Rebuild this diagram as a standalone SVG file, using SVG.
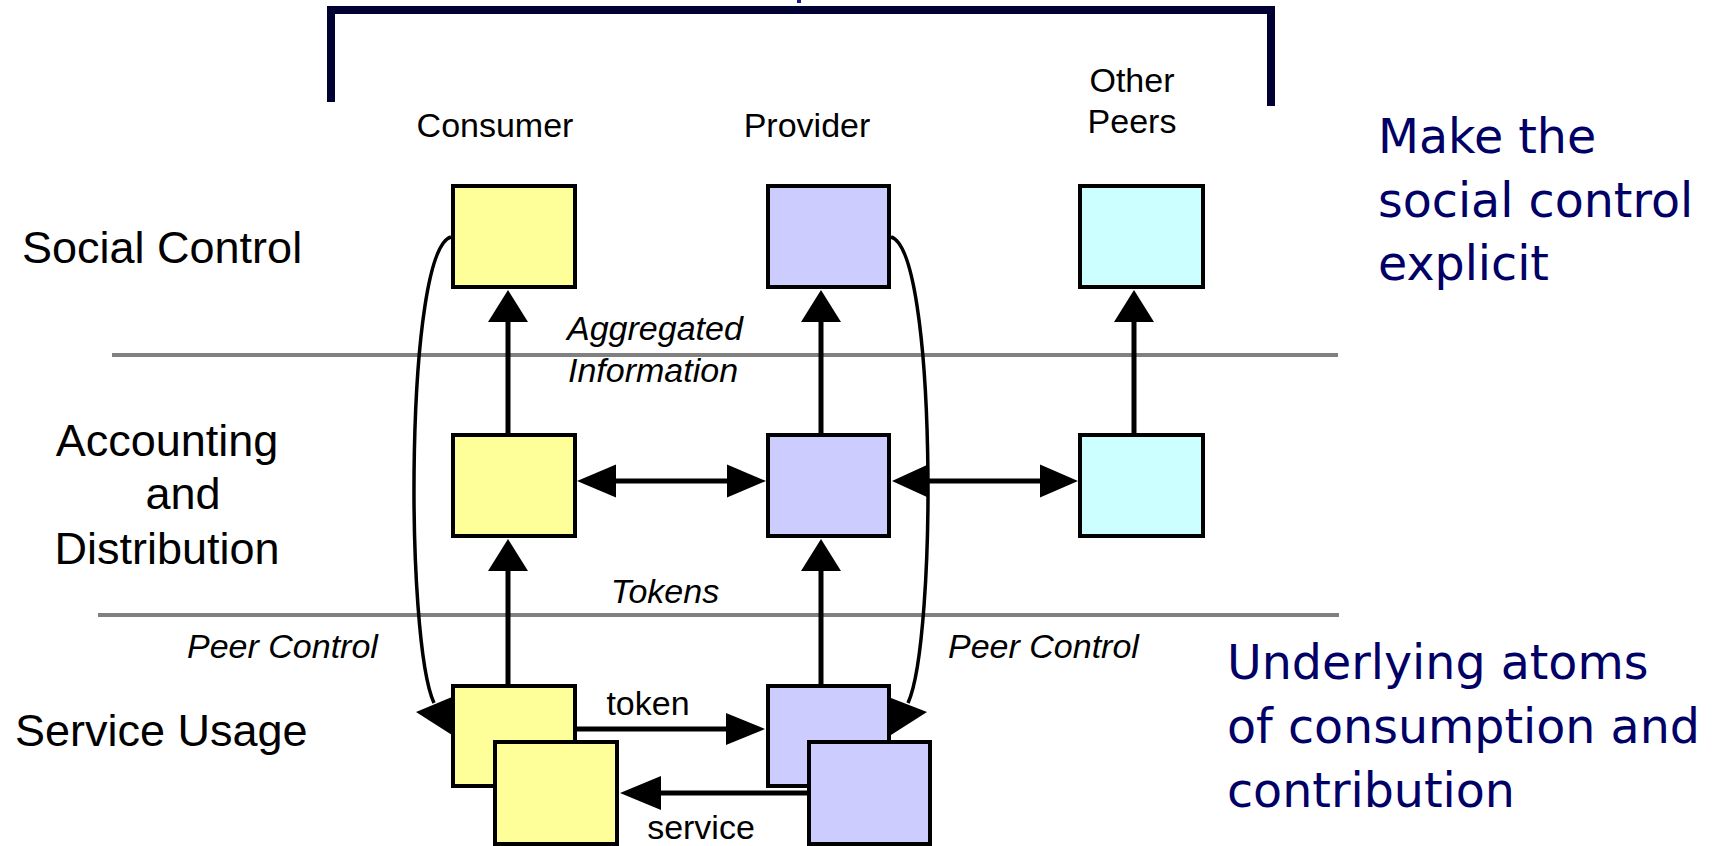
<svg xmlns="http://www.w3.org/2000/svg" width="1724" height="846" viewBox="0 0 1724 846">
<style>
text{font-family:"Liberation Sans",Arial,sans-serif;fill:#000}
.lay{font-size:45px}
.hdr{font-size:34px;text-anchor:middle}
.lbl{font-size:34px}
.it{font-style:italic}
.note{font-family:"DejaVu Sans",sans-serif;font-size:47.5px;fill:#000066}
.box{stroke:#000;stroke-width:4}
.y{fill:#FFFF99}.p{fill:#CCCCFF}.c{fill:#CCFFFF}
.ln{stroke:#000;stroke-width:5;fill:none}
.cv{stroke:#000;stroke-width:3.5;fill:none}
.hd{fill:#000}
.sep{stroke:#808080;stroke-width:4}
</style>
<rect width="1724" height="846" fill="#fff"/>
<g id="bracket">
<path d="M331,102 V10 H1271 V106" fill="none" stroke="#000033" stroke-width="8"/>
<rect x="797" y="0" width="4" height="3" fill="#1a1a8a"/>
</g>
<g id="separators">
<line class="sep" x1="112" y1="355" x2="1338" y2="355"/>
<line class="sep" x1="98" y1="615" x2="1339" y2="615"/>
</g>
<g id="layer-labels">
<text class="lay" x="22" y="263">Social Control</text>
<text class="lay" x="167" y="456" text-anchor="middle">Accounting</text>
<text class="lay" x="183" y="509" text-anchor="middle">and</text>
<text class="lay" x="167" y="564" text-anchor="middle">Distribution</text>
<text class="lay" x="15" y="746">Service Usage</text>
</g>
<g id="column-labels">
<text class="hdr" x="495" y="137">Consumer</text>
<text class="hdr" x="807" y="137">Provider</text>
<text class="hdr" x="1132" y="92">Other</text>
<text class="hdr" x="1132" y="133">Peers</text>
</g>
<g id="connectors">
<path class="cv" d="M451,237 C405,250 405,640 434,703"/>
<polygon class="hd" points="416,712 452,697 452,735"/>
<path class="cv" d="M891,237 C937,250 937,640 908,703"/>
<polygon class="hd" points="927,712 891,698 891,735"/>
<line class="ln" x1="508" y1="433" x2="508" y2="320"/>
<polygon class="hd" points="508,290 488,322 528,322"/>
<line class="ln" x1="821" y1="433" x2="821" y2="320"/>
<polygon class="hd" points="821,290 801,322 841,322"/>
<line class="ln" x1="1134" y1="433" x2="1134" y2="320"/>
<polygon class="hd" points="1134,290 1114,322 1154,322"/>
<line class="ln" x1="508" y1="684" x2="508" y2="569"/>
<polygon class="hd" points="508,539 488,571 528,571"/>
<line class="ln" x1="821" y1="684" x2="821" y2="569"/>
<polygon class="hd" points="821,539 801,571 841,571"/>
<line class="ln" x1="614" y1="481" x2="729" y2="481"/>
<polygon class="hd" points="577,481 616,464.5 616,497.5"/>
<polygon class="hd" points="766,481 727,464.5 727,497.5"/>
<line class="ln" x1="926" y1="481" x2="1042" y2="481"/>
<polygon class="hd" points="892,481 928,464.5 928,497.5"/>
<polygon class="hd" points="1078,481 1040,464.5 1040,497.5"/>
<line class="ln" x1="577" y1="729" x2="728" y2="729"/>
<polygon class="hd" points="765,729 726,713 726,745"/>
<line class="ln" x1="807" y1="793" x2="659" y2="793"/>
<polygon class="hd" points="620,793 661,776 661,810"/>
</g>
<g id="connector-labels">
<text class="lbl it" x="567" y="340">Aggregated</text>
<text class="lbl it" x="568" y="382">Information</text>
<text class="lbl it" x="665" y="603" text-anchor="middle">Tokens</text>
<text class="lbl it" x="187" y="658">Peer Control</text>
<text class="lbl it" x="948" y="658">Peer Control</text>
<text class="lbl" x="648" y="715" text-anchor="middle">token</text>
<text class="lbl" x="701" y="839" text-anchor="middle">service</text>
</g>
<g id="consumer-social"><rect class="box y" x="453" y="186" width="122" height="101"/></g>
<g id="provider-social"><rect class="box p" x="768" y="186" width="121" height="101"/></g>
<g id="others-social"><rect class="box c" x="1080" y="186" width="123" height="101"/></g>
<g id="consumer-accounting"><rect class="box y" x="453" y="435" width="122" height="101"/></g>
<g id="provider-accounting"><rect class="box p" x="768" y="435" width="121" height="101"/></g>
<g id="others-accounting"><rect class="box c" x="1080" y="435" width="123" height="101"/></g>
<g id="consumer-usage-1"><rect class="box y" x="453" y="686" width="122" height="100"/></g>
<g id="consumer-usage-2"><rect class="box y" x="495" y="742" width="122" height="102"/></g>
<g id="provider-usage-1"><rect class="box p" x="768" y="686" width="121" height="100"/></g>
<g id="provider-usage-2"><rect class="box p" x="809" y="742" width="121" height="102"/></g>
<g id="notes">
<text class="note" x="1378" y="153">Make the</text>
<text class="note" x="1378" y="217">social control</text>
<text class="note" x="1378" y="280">explicit</text>
<text class="note" x="1227" y="679">Underlying atoms</text>
<text class="note" x="1227" y="743">of consumption and</text>
<text class="note" x="1227" y="807">contribution</text>
</g>
</svg>
